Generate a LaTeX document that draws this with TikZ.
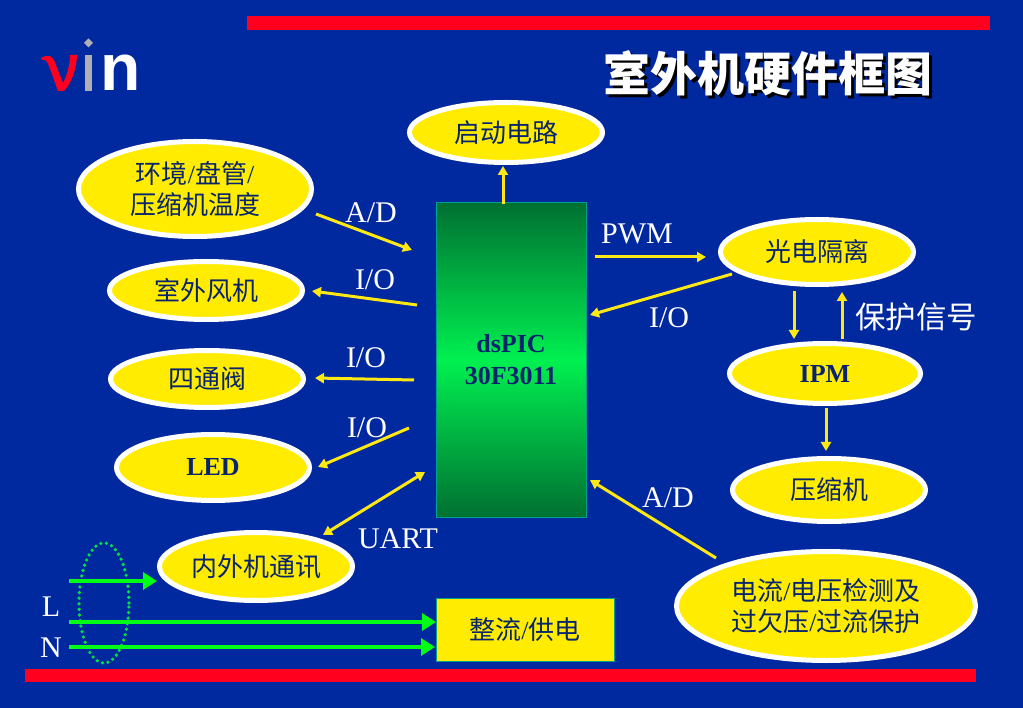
\documentclass[tikz,border=0pt]{standalone}
\usepackage{fontspec}
\setmainfont{Liberation Serif}
\newfontfamily\cjk{Noto Sans CJK SC}
\newfontfamily\logofont{Liberation Sans}
\newcommand{\slashmark}{{\rmfamily /}}
\usetikzlibrary{arrows.meta,shapes.geometric}
\definecolor{bgblue}{RGB}{0,41,160}
\definecolor{barred}{RGB}{255,0,30}
\definecolor{ovalyellow}{RGB}{255,236,0}
\definecolor{inknavy}{RGB}{8,36,110}
\definecolor{wireyellow}{RGB}{255,232,20}
\definecolor{wiregreen}{RGB}{0,255,20}
\definecolor{dotgreen}{RGB}{0,225,70}
\definecolor{dkgreen}{RGB}{0,112,50}
\definecolor{brgreen}{RGB}{0,240,80}
\definecolor{tealedge}{RGB}{0,160,140}
\definecolor{logogrey}{RGB}{175,175,180}
\tikzset{
 oval/.style={ellipse,draw=white,line width=5pt,fill=ovalyellow,inner sep=0pt,text=inknavy,align=center,font=\fontsize{26}{31}\selectfont},
 wire/.style={draw=wireyellow,line width=3pt,-{Triangle[length=9pt,width=10pt]}},
 power/.style={draw=wiregreen,line width=4.5pt,-{Triangle[length=14pt,width=17pt]}},
 lbl/.style={text=white,inner sep=0pt,yshift=-1pt,font=\fontsize{30}{33}\selectfont},
 bar/.style={fill=barred,draw=none},
}
\begin{document}
\begin{tikzpicture}[x=1pt,y=-1pt]
\useasboundingbox (0,0) rectangle (1023,708);
\fill[bgblue] (0,0) rectangle (1023,708);
\fill[bar] (247,16) rectangle (990,30);
\fill[bar] (25,669) rectangle (976,682);
% logo
\fill[barred] (41,58) .. controls (48,54) and (53,55) .. (56,65) -- (63,83) .. controls (67,75) and (70,65) .. (70,55) -- (77,55) .. controls (77,68) and (71,84) .. (64,91) -- (58,91) -- (49,66) .. controls (47,60) and (44,59) .. (42,60) -- cycle;
\fill[logogrey] (85,55) rectangle (92,91);
\fill[logogrey] (88.5,38.5) -- (93,43) -- (88.5,47.5) -- (84,43) -- cycle;
\node[anchor=base west,text=white,inner sep=0pt,font=\logofont\bfseries\fontsize{66}{66}\selectfont] (logon) at (100,91) {n};
% title
\node[text=black,inner sep=0pt,font=\cjk\bfseries\fontsize{47}{50}\selectfont] (titleshadow) at (771,76) {室外机硬件框图};
\node[text=white,inner sep=0pt,font=\cjk\bfseries\fontsize{47}{50}\selectfont] (title) at (768,73) {室外机硬件框图};
% central block
\node[draw=tealedge,line width=1pt,minimum width=150pt,minimum height=314pt,inner sep=0pt,
 top color=dkgreen,bottom color=dkgreen,middle color=brgreen,text=inknavy,align=center,
 font=\bfseries\fontsize{26}{32}\selectfont] (mcu) at (511,360) {dsPIC\\30F3011};
\node[draw=tealedge,line width=1pt,fill=ovalyellow,minimum width=178pt,minimum height=63pt,inner sep=0pt,text=inknavy,
 font=\fontsize{26}{31}\selectfont] (rect) at (525,629.5) {\cjk 整流\slashmark 供电};
% ovals
\node[oval,minimum width=193pt,minimum height=60pt] (boot) at (506,132.5) {\cjk 启动电路};
\node[oval,minimum width=233pt,minimum height=95pt] (env) at (195,189) {\cjk 环境\slashmark 盘管\slashmark\\\cjk 压缩机温度};
\node[oval,minimum width=193pt,minimum height=58pt] (fan) at (206,290.5) {\cjk 室外风机};
\node[oval,minimum width=193pt,minimum height=57pt] (valve) at (207,379) {\cjk 四通阀};
\node[oval,minimum width=193pt,minimum height=66pt,font=\bfseries\fontsize{26}{31}\selectfont] (led) at (213,467.5) {\raisebox{-1.5pt}{LED}};
\node[oval,minimum width=193pt,minimum height=68pt] (comm) at (256,566.5) {\cjk 内外机通讯};
\node[oval,minimum width=193pt,minimum height=65pt] (opto) at (817,252) {\cjk 光电隔离};
\node[oval,minimum width=191pt,minimum height=60pt,font=\bfseries\fontsize{26}{31}\selectfont] (ipm) at (825,373.5) {\raisebox{-1pt}{IPM}};
\node[oval,minimum width=193pt,minimum height=63pt] (comp) at (829,490) {\cjk 压缩机};
\node[oval,minimum width=299pt,minimum height=109pt] (sense) at (826,606) {\cjk 电流\slashmark 电压检测及\\\cjk 过欠压\slashmark 过流保护};
% connector ends
\coordinate (a1) at (316,214); \coordinate (a2) at (412,250);
\coordinate (b1) at (417,305); \coordinate (b2) at (312,291);
\coordinate (c1) at (414,380); \coordinate (c2) at (315,378);
\coordinate (d1) at (409,428); \coordinate (d2) at (318,467);
\coordinate (e1) at (425,472); \coordinate (e2) at (323,535);
\coordinate (f1) at (503,204); \coordinate (f2) at (503,166);
\coordinate (g1) at (595,257); \coordinate (g2) at (706,257);
\coordinate (h1) at (732,274); \coordinate (h2) at (590,315);
\coordinate (i1) at (716,558); \coordinate (i2) at (590,480);
\coordinate (j1) at (794,291); \coordinate (j2) at (794,339);
\coordinate (k1) at (842,339); \coordinate (k2) at (842,292);
\coordinate (l1) at (826,408); \coordinate (l2) at (826,451);
\draw[wire] (a1) -- (a2);
\draw[wire] (b1) -- (b2);
\draw[wire] (c1) -- (c2);
\draw[wire] (d1) -- (d2);
\draw[wire,{Triangle[length=9pt,width=10pt]}-{Triangle[length=9pt,width=10pt]}] (e1) -- (e2);
\draw[wire] (f1) -- (f2);
\draw[wire] (g1) -- (g2);
\draw[wire] (h1) -- (h2);
\draw[wire] (i1) -- (i2);
\draw[wire] (j1) -- (j2);
\draw[wire] (k1) -- (k2);
\draw[wire] (l1) -- (l2);
% mains
\coordinate (p1) at (69,581); \coordinate (p2) at (157,581);
\coordinate (q1) at (69,622); \coordinate (q2) at (436,622);
\coordinate (r1) at (69,647); \coordinate (r2) at (435,647);
\node[ellipse,draw=dotgreen,line width=3.6pt,line cap=round,dash pattern=on 0pt off 5.6pt,minimum width=50pt,minimum height=120pt,inner sep=0pt] (loop) at (104,603) {};
\draw[power] (p1) -- (p2);
\draw[power] (q1) -- (q2);
\draw[power] (r1) -- (r2);
% labels
\node[lbl] (la) at (371,212) {A/D};
\node[lbl] (lb) at (375,279) {I/O};
\node[lbl] (lc) at (366,357) {I/O};
\node[lbl] (ld) at (367,427) {I/O};
\node[lbl] (le) at (398,538) {UART};
\node[lbl] (lf) at (637,233) {PWM};
\node[lbl] (lg) at (669,317) {I/O};
\node[lbl] (lh) at (668,497) {A/D};
\node[lbl,font=\cjk\fontsize{30.5}{33}\selectfont] (li) at (916,316) {保护信号};
\node[lbl] (lj) at (51,606) {L};
\node[lbl] (lk) at (51,647) {N};
\end{tikzpicture}
\end{document}
